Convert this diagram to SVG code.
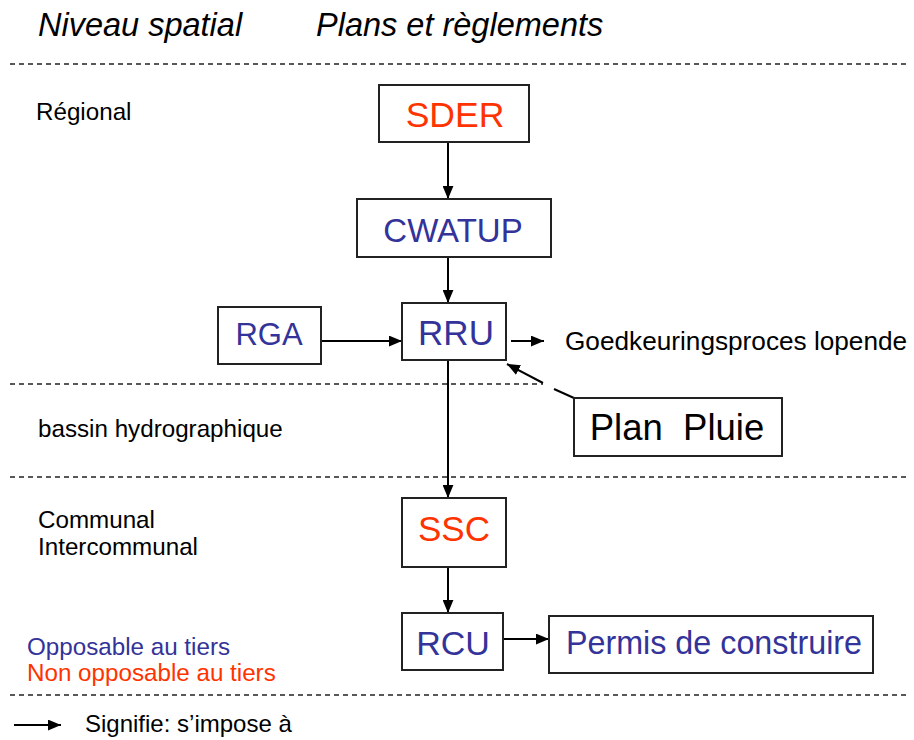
<svg xmlns="http://www.w3.org/2000/svg" width="914" height="740" viewBox="0 0 914 740">
<style>
text{font-family:"Liberation Sans",Arial,sans-serif;}
.title{font-size:32.5px;font-style:italic;fill:#000;}
.lvl{font-size:24.2px;fill:#000;}
.box{fill:#fff;stroke:#222;stroke-width:2;}
.red{fill:#FF3300;}
.blue{fill:#333399;}
.dash{stroke:#222;stroke-width:1.5;stroke-dasharray:5 4;fill:none;}
.conn{stroke:#000;stroke-width:2;fill:none;}
</style>
<defs>
<marker id="ah" viewBox="0 0 12 10" refX="12" refY="5" markerWidth="13" markerHeight="11" markerUnits="userSpaceOnUse" orient="auto">
<path d="M0,0 L12,5 L0,10 z" fill="#000"/>
</marker>
</defs>
<rect width="914" height="740" fill="#fff"/>
<g id="headers">
<text class="title" x="38" y="36">Niveau spatial</text>
<text class="title" x="316" y="36">Plans et règlements</text>
</g>
<g id="separators">
<line class="dash" x1="10" y1="64" x2="906" y2="64"/>
<line class="dash" x1="10" y1="384" x2="543" y2="384"/>
<line class="dash" x1="10" y1="477" x2="906" y2="477"/>
<line class="dash" x1="10" y1="695" x2="906" y2="695"/>
</g>
<g id="levels">
<text class="lvl" x="36" y="120">Régional</text>
<text class="lvl" x="38" y="437">bassin hydrographique</text>
<text class="lvl" x="38" y="528">Communal</text>
<text class="lvl" x="38" y="555">Intercommunal</text>
<text class="lvl blue" x="27" y="655">Opposable au tiers</text>
<text class="lvl red" x="27" y="681">Non opposable au tiers</text>
</g>
<g id="connectors">
<line class="conn" x1="448" y1="142" x2="448" y2="199" marker-end="url(#ah)"/>
<line class="conn" x1="448" y1="257" x2="448" y2="303" marker-end="url(#ah)"/>
<line class="conn" x1="321" y1="341" x2="402" y2="341" marker-end="url(#ah)"/>
<line class="conn" x1="511" y1="341" x2="544" y2="341" marker-end="url(#ah)"/>
<line class="conn" x1="574" y1="398" x2="554" y2="389"/>
<line class="conn" x1="543" y1="383" x2="507" y2="364" marker-end="url(#ah)"/>
<line class="conn" x1="448" y1="360" x2="448" y2="498" marker-end="url(#ah)"/>
<line class="conn" x1="448" y1="567" x2="448" y2="613" marker-end="url(#ah)"/>
<line class="conn" x1="503" y1="639" x2="549" y2="639" marker-end="url(#ah)"/>
<line class="conn" x1="14" y1="725" x2="61" y2="725" marker-end="url(#ah)"/>
</g>
<g id="SDER">
<rect class="box" x="379" y="85" width="150" height="57"/>
<text class="red" x="455" y="127" font-size="35.5" text-anchor="middle">SDER</text>
</g>
<g id="CWATUP">
<rect class="box" x="357" y="199" width="194" height="58"/>
<text class="blue" x="453" y="242" font-size="33" text-anchor="middle">CWATUP</text>
</g>
<g id="RGA">
<rect class="box" x="218" y="307" width="103" height="57"/>
<text class="blue" x="269" y="345" font-size="31" text-anchor="middle">RGA</text>
</g>
<g id="RRU">
<rect class="box" x="402" y="303" width="104" height="57"/>
<text class="blue" x="456" y="345" font-size="35" text-anchor="middle">RRU</text>
</g>
<g id="Goedkeuring">
<text x="565" y="350" font-size="26.2" fill="#000">Goedkeuringsproces lopende</text>
</g>
<g id="PlanPluie">
<rect class="box" x="574" y="398" width="208" height="58"/>
<text x="677" y="440" font-size="36.5" fill="#000" text-anchor="middle" xml:space="preserve" style="white-space:pre">Plan  Pluie</text>
</g>
<g id="SSC">
<rect class="box" x="402" y="498" width="104" height="69"/>
<text class="red" x="454" y="541" font-size="35" text-anchor="middle">SSC</text>
</g>
<g id="RCU">
<rect class="box" x="402" y="613" width="101" height="57"/>
<text class="blue" x="453" y="655" font-size="34" text-anchor="middle">RCU</text>
</g>
<g id="Permis">
<rect class="box" x="549" y="616" width="324" height="57"/>
<text class="blue" x="714" y="654" font-size="32.3" text-anchor="middle">Permis de construire</text>
</g>
<g id="legend">
<text x="85" y="732" font-size="24" fill="#000">Signifie: s’impose à</text>
</g>
</svg>
